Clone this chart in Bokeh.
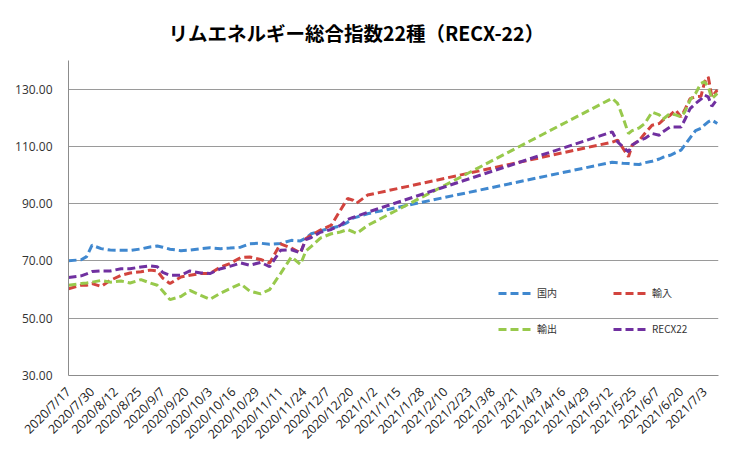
import math
from datetime import datetime
import pandas as pd
from bokeh.plotting import figure
from bokeh.models import (FixedTicker, CustomJSTickFormatter, Legend, LegendItem,
                          Range1d, PrintfTickFormatter)
from bokeh.embed import file_html
from bokeh.resources import INLINE

# ---------------- data ----------------
title_text = "リムエネルギー総合指数22種（RECX-22）"
series_names = ["国内", "輸入", "輸出", "RECX22"]

dates = [
    "2020-07-17", "2020-07-24", "2020-07-27", "2020-07-30", "2020-08-04", "2020-08-09",
    "2020-08-15", "2020-08-20", "2020-08-26", "2020-08-31", "2020-09-04", "2020-09-07",
    "2020-09-11", "2020-09-17", "2020-09-22", "2020-09-28", "2020-10-03", "2020-10-09",
    "2020-10-14", "2020-10-20", "2020-10-25", "2020-10-31", "2020-11-05", "2020-11-11",
    "2020-11-17", "2020-11-22", "2020-11-25", "2020-11-28", "2020-12-03", "2020-12-09",
    "2020-12-14", "2020-12-18", "2020-12-21", "2020-12-23", "2020-12-29",
    "2021-05-13", "2021-05-16", "2021-05-19", "2021-05-22", "2021-05-24", "2021-05-28",
    "2021-05-31", "2021-06-04", "2021-06-08", "2021-06-10", "2021-06-14", "2021-06-17",
    "2021-06-20", "2021-06-22", "2021-06-25", "2021-06-28", "2021-07-01", "2021-07-03",
    "2021-07-05", "2021-07-07", "2021-07-10",
]

domestic = [70.1, 70.4, 71.5, 75.5, 74.3, 73.8, 73.7, 73.7, 74.2, 74.9, 75.2, 74.8,
            74.1, 73.6, 73.8, 74.3, 74.6, 74.3, 74.5, 74.8, 76.0, 76.2, 75.8, 76.1,
            77.2, 77.0, 78.0, 79.5, 80.5, 81.5, 82.2, 83.5, 85.0, 85.3, 86.5,
            104.5, 104.3, 104.1, 104.0, 103.8, 103.7, 104.3, 104.8, 105.6, 106.2, 106.9,
            107.8, 108.7, 110.4, 113.0, 115.5, 116.3, 117.5, 118.6, 119.2, 118.0]

imports = [60.3, 61.5, 61.5, 62.1, 61.1, 63.2, 65.0, 65.8, 66.2, 66.8, 66.5, 64.0,
           62.1, 64.4, 65.0, 65.6, 65.6, 67.9, 69.1, 71.2, 71.4, 70.5, 69.3, 76.0,
           74.5, 72.8, 77.8, 79.0, 80.8, 82.5, 87.7, 91.8, 91.2, 90.2, 93.0,
           111.5, 112.2, 109.3, 106.4, 110.4, 112.2, 114.5, 117.4, 118.0, 119.2, 120.9,
           122.7, 120.3, 122.7, 126.7, 127.3, 127.5, 132.5, 134.3, 127.3, 129.7]

exports = [61.5, 62.1, 62.3, 62.6, 63.2, 62.6, 63.0, 62.3, 63.5, 62.3, 61.5, 59.5,
           56.5, 57.6, 59.7, 58.0, 56.6, 58.8, 60.3, 62.0, 59.5, 58.5, 60.0, 65.6,
           71.4, 68.8, 73.5, 75.1, 78.0, 79.5, 80.1, 81.0, 80.2, 79.6, 82.4,
           126.8, 125.0, 120.0, 114.5, 115.5, 116.5, 118.0, 122.0, 121.0, 119.5, 121.5,
           121.0, 120.3, 122.0, 126.2, 128.5, 132.0, 132.6, 130.8, 126.7, 128.5]

recx22 = [64.2, 64.8, 65.5, 66.3, 66.5, 66.5, 67.3, 67.3, 67.9, 68.3, 68.0, 66.0,
          65.0, 65.0, 66.5, 65.8, 65.6, 67.3, 68.1, 69.3, 68.5, 69.5, 68.0, 73.7,
          73.9, 72.8, 77.5, 78.2, 80.0, 81.0, 82.4, 84.5, 85.2, 85.6, 87.0,
          115.1, 111.6, 109.8, 108.1, 110.5, 112.0, 112.8, 114.5, 113.9, 115.1, 116.8,
          116.8, 116.8, 119.2, 123.2, 125.0, 126.5, 127.9, 127.3, 124.0, 126.5]

tick_labels = [
    "2020-07-17", "2020-07-30", "2020-08-12", "2020-08-25", "2020-09-07", "2020-09-20",
    "2020-10-03", "2020-10-16", "2020-10-29", "2020-11-11", "2020-11-24", "2020-12-07",
    "2020-12-20", "2021-01-02", "2021-01-15", "2021-01-28", "2021-02-10", "2021-02-23",
    "2021-03-08", "2021-03-21", "2021-04-03", "2021-04-16", "2021-04-29", "2021-05-12",
    "2021-05-25", "2021-06-07", "2021-06-20", "2021-07-03",
]
y_ticks = [30, 50, 70, 90, 110, 130]

colors = ["#4088cf", "#d2443e", "#98c94c", "#7030a0"]

# ---------------- figure ----------------
x_dt = pd.to_datetime(dates)

p = figure(width=726, height=453, x_axis_type="datetime",
           x_range=Range1d(start=datetime(2020, 7, 17), end=datetime(2021, 7, 10, 16)),
           y_range=Range1d(start=30, end=140),
           output_backend="svg", toolbar_location=None,
           min_border_left=68, min_border_right=8, min_border_top=60, min_border_bottom=78)
p.background_fill_color = "white"
p.border_fill_color = "white"
p.outline_line_color = None

p.title.text = title_text
p.title.text_font = "Noto Sans CJK JP"
p.title.text_font_size = "19.5px"
p.title.text_font_style = "bold"
p.title.text_color = "#000000"
p.title.align = "left"
p.title.offset = 100
p.title.standoff = 28

# y axis
p.yaxis.ticker = FixedTicker(ticks=y_ticks)
p.yaxis.formatter = PrintfTickFormatter(format="%.2f")
p.yaxis.axis_line_color = "#8c8c8c"
p.yaxis.major_tick_out = 0
p.yaxis.major_tick_in = 0
p.yaxis.minor_tick_out = 0
p.yaxis.minor_tick_in = 0
p.yaxis.major_label_standoff = 16
p.yaxis.major_label_text_font = "Open Sans"
p.yaxis.major_label_text_font_size = "12px"
p.yaxis.major_label_text_color = "#333333"

# x axis
tick_ms = [pd.Timestamp(s).value // 10**6 for s in tick_labels]
p.xaxis.ticker = FixedTicker(ticks=tick_ms)
p.xaxis.formatter = CustomJSTickFormatter(code="""
const d = new Date(tick);
return d.getUTCFullYear() + "/" + (d.getUTCMonth() + 1) + "/" + d.getUTCDate();
""")
p.xaxis.major_label_orientation = math.pi / 4
p.xaxis.axis_line_color = "#8c8c8c"
p.xaxis.major_tick_out = 0
p.xaxis.major_tick_in = 0
p.xaxis.minor_tick_out = 0
p.xaxis.minor_tick_in = 0
p.xaxis.major_label_standoff = 14
p.xaxis.major_label_text_font = "Open Sans"
p.xaxis.major_label_text_font_size = "12.5px"
p.xaxis.major_label_text_color = "#222222"

p.xgrid.visible = False
p.ygrid.ticker = FixedTicker(ticks=y_ticks)
p.ygrid.grid_line_color = "#9a9a9a"
p.ygrid.grid_line_width = 1

renderers = []
for vals, c in zip([domestic, imports, exports, recx22], colors):
    r = p.line(x=x_dt, y=vals, line_color=c, line_width=3, line_dash="8 4")
    renderers.append(r)

legend_locs = [(430, 75), (545, 75), (430, 39), (545, 39)]
for name, r, loc in zip(series_names, renderers, legend_locs):
    lg = Legend(items=[LegendItem(label=name, renderers=[r])], location=loc,
                border_line_color=None, background_fill_alpha=0,
                padding=0, margin=0, spacing=0,
                glyph_width=35, glyph_height=10, label_height=10,
                label_standoff=4, label_text_font="Noto Sans CJK JP",
                label_text_font_size="10px", label_text_color="#333333")
    p.add_layout(lg, "center")

open("out.html", "w").write(file_html(p, INLINE))
